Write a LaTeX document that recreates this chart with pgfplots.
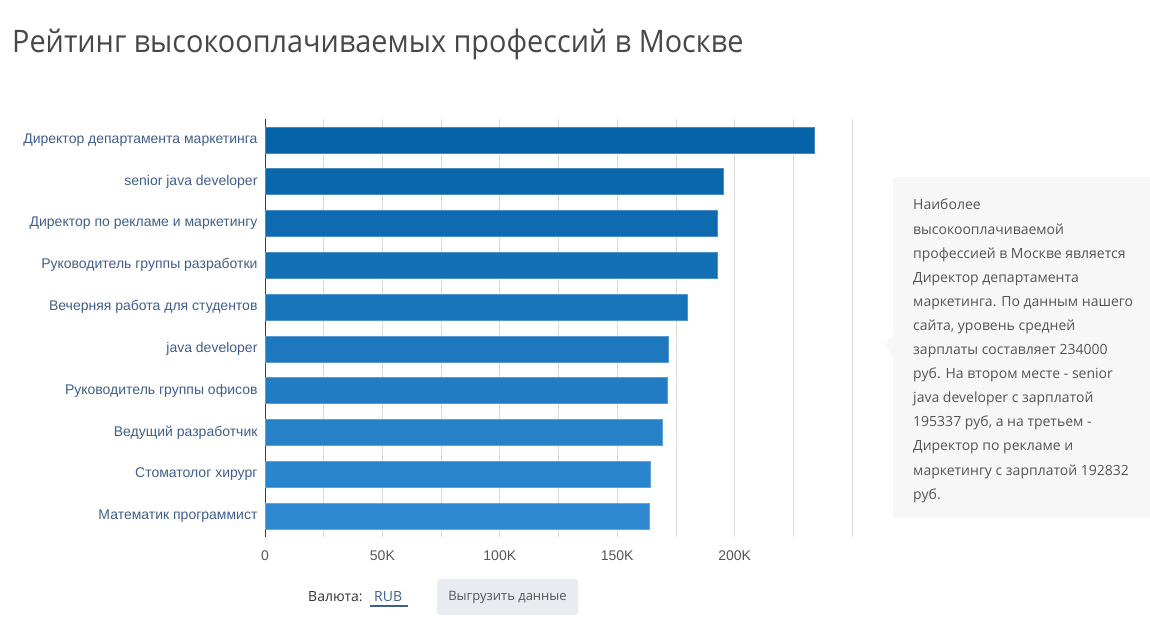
\documentclass[border=0pt]{standalone}
\usepackage{pgfplots}
\pgfplotsset{compat=1.18}
\usepackage{fontspec}
\setmainfont{Liberation Sans}
\newfontfamily\osans{Open Sans}
\newfontfamily\titlefont[FakeStretch=0.93]{Open Sans}
\definecolor{barA}{HTML}{0563A8}
\definecolor{barB}{HTML}{3089D0}
\definecolor{lab}{HTML}{3F5E8C}
\definecolor{tickc}{HTML}{555555}
\definecolor{gridc}{HTML}{DADADA}
\definecolor{boxc}{HTML}{F7F7F7}
\definecolor{boxtext}{HTML}{555555}
\definecolor{titlec}{HTML}{484848}
\definecolor{btn}{HTML}{E8ECF0}
\begin{document}
\begin{tikzpicture}[x=1pt,y=1pt]
\path[use as bounding box] (0,0) rectangle (1150,637);
% title
\node[anchor=base west, inner sep=0, text=titlec,
  font=\titlefont\fontsize{31}{36}\selectfont] at (12,584)
  {Рейтинг высокооплачиваемых профессий в Москве};

\begin{axis}[
  at={(265pt,100pt)}, anchor=south west,
  scale only axis, width=587pt, height=418pt,
  xmin=0, xmax=250000,
  ymin=-0.5, ymax=9.5, y dir=reverse,
  axis lines*=left,
  x axis line style={draw=none},
  y axis line style={draw=black!75, line width=0.8pt},
  xtick={0,25000,...,250000},
  xticklabels={0,,50K,,100K,,150K,,200K,,},
  scaled x ticks=false,
  ytick={0,...,9},
  yticklabels={Директор департамента маркетинга, senior java developer,
    Директор по рекламе и маркетингу, Руководитель группы разработки,
    Вечерняя работа для студентов, java developer,
    Руководитель группы офисов, Ведущий разработчик,
    Стоматолог хирург, Математик программист},
  xmajorgrids,
  grid style={draw=gridc, line width=0.8pt},
  major tick length=0pt, tick style={draw=none},
  xticklabel style={font=\fontsize{14}{16}\selectfont, text=tickc, yshift=-10pt},
  yticklabel style={font=\fontsize{14}{16}\selectfont, text=lab, xshift=-4pt},
  mybar/.style={xbar, bar shift=0pt, bar width=26pt, fill=#1,
    draw=#1!75!white, line width=0.6pt},
]
\addplot[mybar=barB!0!barA]   coordinates {(234000,0)};
\addplot[mybar=barB!11!barA]  coordinates {(195337,1)};
\addplot[mybar=barB!22!barA]  coordinates {(192832,2)};
\addplot[mybar=barB!33!barA]  coordinates {(192500,3)};
\addplot[mybar=barB!44!barA]  coordinates {(180000,4)};
\addplot[mybar=barB!56!barA]  coordinates {(171600,5)};
\addplot[mybar=barB!67!barA]  coordinates {(171200,6)};
\addplot[mybar=barB!78!barA]  coordinates {(169000,7)};
\addplot[mybar=barB!89!barA]  coordinates {(164100,8)};
\addplot[mybar=barB!100!barA] coordinates {(163700,9)};
\end{axis}

% side note
\fill[boxc] (893,119) rectangle (1150,460);
\fill[boxc] (893,304) -- (885,292) -- (893,280) -- cycle;
\foreach \t [count=\i from 0] in {Наиболее, высокооплачиваемой,
  профессией в Москве является, Директор департамента,
  маркетинга. По данным нашего, {сайта, уровень средней},
  зарплаты составляет 234000, руб. На втором месте - senior,
  java developer с зарплатой, {195337 руб, а на третьем -},
  Директор по рекламе и, маркетингу с зарплатой 192832, руб.}
  \node[anchor=base west, inner sep=0, text=boxtext,
    font=\osans\fontsize{14}{17}\selectfont] at (913,427-24.1*\i) {\t};

% controls
\node[anchor=west, inner sep=0, text=black!80, font=\osans\fontsize{14}{17}\selectfont]
  at (308,40) {Валюта:};
\node[anchor=west, inner sep=0, text=lab, font=\osans\fontsize{14}{17}\selectfont]
  at (374,40) {RUB};
\draw[lab, line width=2pt] (370,31) -- (408,31);
\fill[btn, rounded corners=3pt] (437,22) rectangle (578,58);
\node[inner sep=0, text=tickc, font=\osans\fontsize{13}{16}\selectfont]
  at (507.5,40) {Выгрузить данные};
\end{tikzpicture}
\end{document}
